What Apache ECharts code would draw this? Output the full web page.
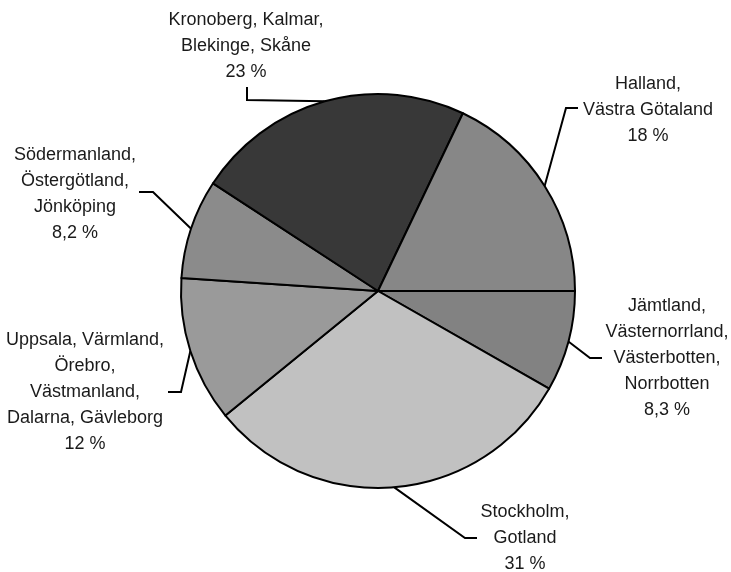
<!DOCTYPE html>
<html>
<head>
<meta charset="utf-8">
<script src="https://cdn.jsdelivr.net/npm/echarts@6/dist/echarts.min.js"></script>
<style>
  html, body { margin: 0; padding: 0; background: #fff; }
  #container { width: 731px; height: 572px; }
</style>
</head>
<body>
<div id="container"></div>
<script>
// slices, clockwise from 3 o'clock
var regions = [
  'Jämtland,\nVästernorrland,\nVästerbotten,\nNorrbotten',
  'Stockholm,\nGotland',
  'Uppsala, Värmland,\nÖrebro,\nVästmanland,\nDalarna, Gävleborg',
  'Södermanland,\nÖstergötland,\nJönköping',
  'Kronoberg, Kalmar,\nBlekinge, Skåne',
  'Halland,\nVästra Götaland'
];
var shares = [8.3, 31, 12, 8.2, 23, 18];
var fills = ['#828282', '#c1c1c1', '#9a9a9a', '#8b8b8b', '#383838', '#878787'];

// label placement: text centre, elbow, end of leader
var labelPos = [
  { x: 667, y: 358, elbow: [590, 358], end: [602, 358] },
  { x: 525, y: 538, elbow: [465, 538], end: [477, 538] },
  { x: 85, y: 392, elbow: [181, 392], end: [168, 392] },
  { x: 75, y: 194, elbow: [153, 192], end: [139, 192] },
  { x: 246, y: 46, elbow: [247, 100], end: [247, 87] },
  { x: 648, y: 110, elbow: [566, 108], end: [578, 108] }
];

var dom = document.getElementById('container');
var myChart = echarts.init(dom, null, { renderer: 'canvas' });

var option = {
  animation: false,
  series: [
    {
      type: 'pie',
      center: [378, 291],
      radius: 197,
      startAngle: 0,
      clockwise: true,
      data: regions.map(function (name, i) {
        return { name: name, value: shares[i], itemStyle: { color: fills[i] } };
      }),
      itemStyle: { borderColor: '#000', borderWidth: 2 },
      label: {
        show: true,
        position: 'outside',
        color: '#1a1a1a',
        fontFamily: 'Liberation Sans',
        fontSize: 18,
        lineHeight: 26,
        align: 'center',
        overflow: 'none',
        formatter: function (p) {
          return p.name + '\n' + String(p.value).replace('.', ',') + ' %';
        }
      },
      labelLine: {
        show: true,
        lineStyle: { color: '#000', width: 2 }
      },
      labelLayout: function (params) {
        var lp = labelPos[params.dataIndex];
        var start = params.labelLinePoints[0];
        return {
          x: lp.x,
          y: lp.y,
          width: 220,
          align: 'center',
          verticalAlign: 'middle',
          labelLinePoints: [start, lp.elbow, lp.end]
        };
      }
    }
  ]
};

myChart.setOption(option);
window.addEventListener('resize', myChart.resize);
</script>
</body>
</html>
